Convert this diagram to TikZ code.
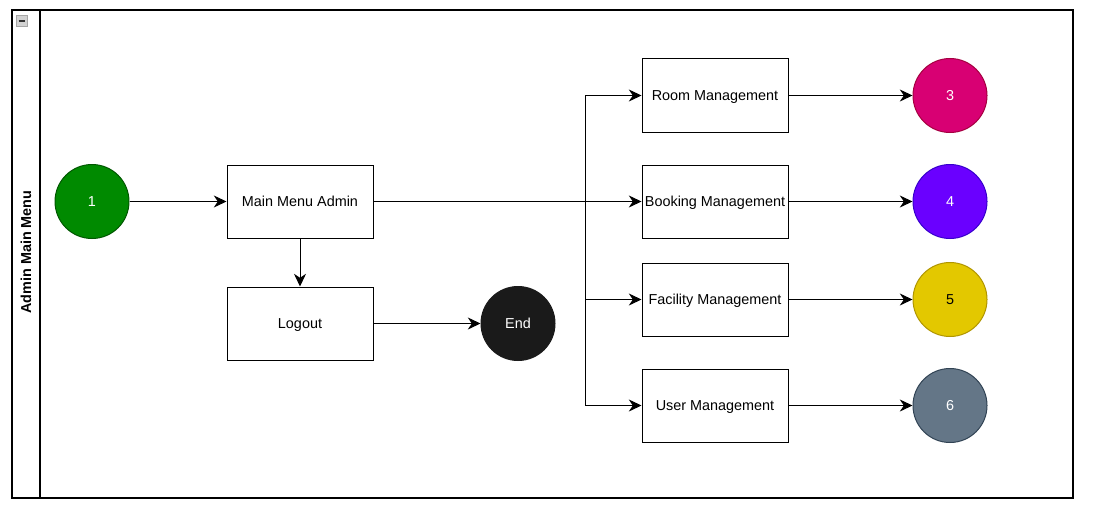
\documentclass[tikz,border=0pt]{standalone}
\usepackage{fontspec}
\setmainfont{Liberation Sans}
\usepackage{xcolor}
\usepackage{tikz}
\usetikzlibrary{positioning,arrows.meta,calc}
\definecolor{greenfill}{HTML}{008A00}
\definecolor{greenline}{HTML}{005700}
\definecolor{pinkfill}{HTML}{D80073}
\definecolor{pinkline}{HTML}{A50040}
\definecolor{violetfill}{HTML}{6A00FF}
\definecolor{violetline}{HTML}{3700CC}
\definecolor{yellowfill}{HTML}{E3C800}
\definecolor{yellowline}{HTML}{B09500}
\definecolor{slatefill}{HTML}{647687}
\definecolor{slateline}{HTML}{314354}
\definecolor{endfill}{HTML}{1A1A1A}
\tikzset{
  every node/.style={font=\fontsize{10.8}{13}\selectfont},
  menubox/.style={draw=black,line width=0.75pt,minimum width=109.5pt,minimum height=54.75pt,inner sep=1pt,text depth=0pt},
  stepdot/.style={circle,line width=0.75pt,minimum size=55.5pt,inner sep=0pt,text=white},
  arr/.style={-{Stealth[length=9.5pt,width=9pt,inset=3pt]},line width=0.75pt,draw=black}
}
\begin{document}
\begin{tikzpicture}[x=0.75pt,y=-0.75pt]
  \useasboundingbox (0,0) rectangle (1105,517);
  \draw[line width=0.9pt] (12,10) rectangle (1073,498);
  \draw[line width=0.9pt] (40,10) -- (40,498);
  \node[rotate=90,font=\fontsize{10.8}{13}\selectfont\bfseries] (lane) at (26,252) {Admin Main Menu};
  \draw[gray!70,fill=gray!35] (16.5,15.5) rectangle (27,26);
  \draw[line width=1.2pt,black!80] (18.5,20.75) -- (25,20.75);

  \node[stepdot,draw=greenline,fill=greenfill] (one) at (92,201.5) {1};
  \node[menubox] (main) at (300,201.5) {Main Menu Admin};
  \node[menubox] (logout) at (300,323.5) {Logout};
  \node[stepdot,draw=endfill,fill=endfill] (end) at (518,323.5) {End};

  \node[menubox] (room) at (715,95.5) {Room Management};
  \node[menubox] (booking) at (715,201.5) {Booking Management};
  \node[menubox] (facility) at (715,299.5) {Facility Management};
  \node[menubox] (user) at (715,405.5) {User Management};

  \node[stepdot,draw=pinkline,fill=pinkfill] (three) at (950,95.5) {3};
  \node[stepdot,draw=violetline,fill=violetfill] (four) at (950,201.5) {4};
  \node[stepdot,draw=yellowline,fill=yellowfill,text=black] (five) at (950,299.5) {5};
  \node[stepdot,draw=slateline,fill=slatefill] (six) at (950,405.5) {6};

  \coordinate (split) at (585,201.5);

  \draw[arr] (one) -- (main);
  \draw[arr] (main) -- (logout);
  \draw[arr] (logout) -- (end);
  \draw[arr] (main.east) -- (split) |- (room.west);
  \draw[arr] (main.east) -- (booking.west);
  \draw[arr] (main.east) -- (split) |- (facility.west);
  \draw[arr] (main.east) -- (split) |- (user.west);
  \draw[arr] (room) -- (three);
  \draw[arr] (booking) -- (four);
  \draw[arr] (facility) -- (five);
  \draw[arr] (user) -- (six);
\end{tikzpicture}
\end{document}
